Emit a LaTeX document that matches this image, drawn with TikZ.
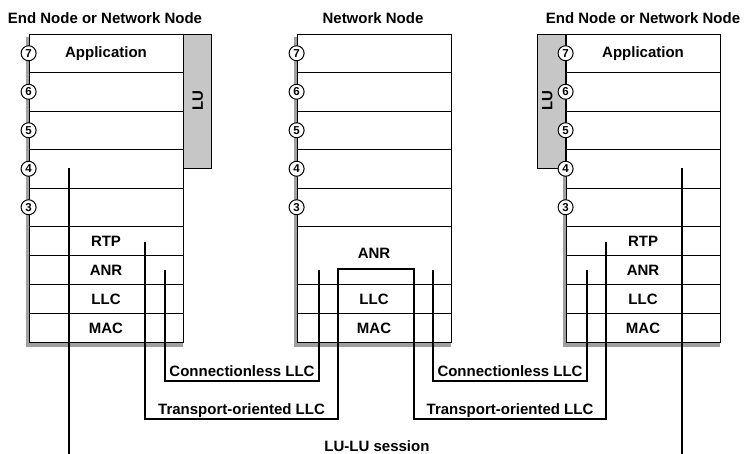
\documentclass[tikz,border=0pt]{standalone}
\usepackage{fontspec}
\setmainfont{Liberation Sans}
\usepackage{graphicx}
\tikzset{
  base/.style={font=\fontsize{15}{18}\selectfont\bfseries},
  layer/.style={base, draw, fill=white, line width=0.8pt, minimum width=154pt, minimum height=38.5pt, inner sep=0pt},
  sublayer/.style={layer, minimum height=29pt},
  num/.style={circle, draw, fill=white, line width=1pt, inner sep=0pt, minimum size=15pt, font=\fontsize{11.5}{13}\selectfont\bfseries},
  shadow/.style={fill=gray!75},
  lubar/.style={draw, fill=gray!45, line width=0.8pt, minimum width=28pt, minimum height=134pt, inner sep=0pt},
  link/.style={line width=1.5pt},
  lbl/.style={base, anchor=base, yshift=5pt, inner sep=1pt},
  title/.style={base, anchor=base}
}
\begin{document}
\begin{tikzpicture}[x=1pt, y=-1pt]
    \useasboundingbox (0,0) rectangle (746,454);

    % Titles
    \node[title] (titleA) at (105,24) {End Node or Network Node};
    \node[title] (titleB) at (373,24) {Network Node};
    \node[title] (titleC) at (643,24) {End Node or Network Node};

    % Shadows and layers 7 to 3
    \foreach \n/\x in {A/106, B/374, C/643} {
      \fill[shadow] (\x-80.5,37) rectangle (\x+77,346.5);
      \foreach \i in {7,...,3}
        \node[layer] (\n\i) at (\x,{53.25+(7-\i)*38.5}) {};
    }
    \node[base] (appA) at (A7) {Application};
    \node[base] (appC) at (C7) {Application};

    % Lower layers of the end nodes
    \foreach \n/\x in {A/106, C/643} {
      \node[sublayer] (\n-rtp) at (\x,241) {RTP};
      \node[sublayer] (\n-anr) at (\x,270) {ANR};
      \node[sublayer] (\n-llc) at (\x,299) {LLC};
      \node[sublayer] (\n-mac) at (\x,328) {MAC};
    }

    % Lower layers of the network node
    \node[layer, minimum height=58pt] (B-anr) at (374,255.5) {};
    \node[base] (B-anrtext) at (374,253) {ANR};
    \node[sublayer] (B-llc) at (374,299) {LLC};
    \node[sublayer] (B-mac) at (374,328) {MAC};

    % LU bars
    \node[lubar, anchor=north west] (barA) at (A7.north east) {};
    \node[base, rotate=90] (barAtext) at (barA) {LU};
    \node[lubar, anchor=north east] (barC) at (C7.north west) {};
    \node[base, rotate=90] (barCtext) at ([xshift=-4pt]barC.center) {LU};

    % Layer numbers
    \foreach \n in {A, B, C}
      \foreach \i in {7,...,3}
        \node[num] (\n\i-num) at (\n\i.west) {\i};

    % End points of the connections
    \coordinate (luA) at (69,168);
    \coordinate (luC) at (682,168);
    \coordinate (rtpA) at (145,242);
    \coordinate (rtpC) at (606,242);
    \coordinate (anrB1) at (338,269);
    \coordinate (anrB2) at (414,269);
    \coordinate (llcA) at (165,270);
    \coordinate (llcB1) at (319,270);
    \coordinate (llcB2) at (433,270);
    \coordinate (llcC) at (587,270);
    \coordinate (clevel) at (0,381);
    \coordinate (tlevel) at (0,419);
    \coordinate (bottom) at (0,454);

    % LU-LU session
    \draw[link] (luA) -- (luA |- bottom);
    \draw[link] (luC) -- (luC |- bottom);
    \node[base, anchor=base] (session) at (377,451) {LU-LU session};

    % Transport-oriented LLC
    \draw[link] (rtpA) |- node[lbl, pos=0.75] (tlabelA) {Transport-oriented LLC} (anrB1 |- tlevel)
      -- (anrB1) -- (anrB2) -- (anrB2 |- tlevel)
      -| node[lbl, pos=0.25] (tlabelC) {Transport-oriented LLC} (rtpC);

    % Connectionless LLC
    \draw[link] (llcA) |- node[lbl, pos=0.75] (clabelA) {Connectionless LLC} (llcB1 |- clevel) -- (llcB1);
    \draw[link] (llcB2) |- node[lbl, pos=0.75] (clabelC) {Connectionless LLC} (llcC |- clevel) -- (llcC);
\end{tikzpicture}
\end{document}
